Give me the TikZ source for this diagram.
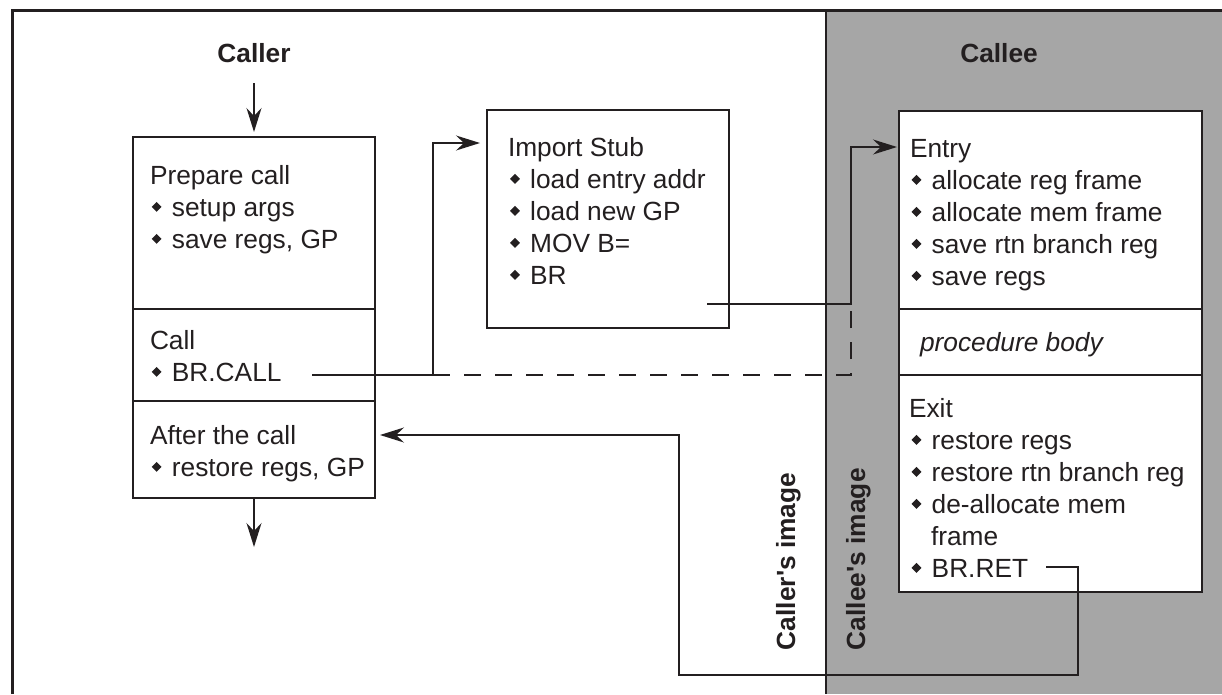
\documentclass[tikz,border=0pt]{standalone}
\usepackage{fontspec}
\setmainfont{Liberation Sans}
\usetikzlibrary{arrows.meta}
\definecolor{ink}{HTML}{231F20}
\definecolor{calleegray}{HTML}{A6A6A6}
\newcommand\dia{\raisebox{4.2pt}{\rotatebox{45}{\rule{7pt}{7pt}}}\hspace{10.3pt}}
\tikzset{
  txt/.style={anchor=base west, inner sep=0pt, outer sep=0pt, text=ink,
              font=\fontsize{26.3}{32}\selectfont},
  head/.style={inner sep=0pt, outer sep=0pt, text=ink,
              font=\fontsize{26.3}{32}\selectfont\bfseries},
  box/.style={draw=ink, line width=2.8pt, fill=white, anchor=north west,
              inner sep=0pt, outer sep=0pt},
  divider/.style={draw=ink, line width=1.4pt},
  conn/.style={draw=ink, line width=1.4pt},
  tip/.style={-{Stealth[length=24pt,width=15pt,inset=8pt]}},
  dashline/.style={draw=ink, line width=2.8pt, dash pattern=on 17pt off 14pt},
}
\begin{document}
\begin{tikzpicture}[x=1pt,y=-1pt]
\useasboundingbox (0,0) rectangle (1222,694);
% callee region
\fill[calleegray] (826,10) rectangle (1222,694);
\draw[ink, line width=2.5pt] (826,10) -- (826,694);
\draw[ink, line width=3pt] (12,694) -- (12,10) -- (1222,10);

% titles
\node[head, anchor=base] (callerT) at (254,62) {Caller};
\node[head, anchor=base] (calleeT) at (999,62) {Callee};
\node[head, anchor=base west, rotate=90] (callerImg) at (795,650) {Caller\textquotesingle s image};
\node[head, anchor=base west, rotate=90] (calleeImg) at (865,650) {Callee\textquotesingle s image};

% boxes
\node[box, minimum width=242pt, minimum height=361pt] (callerbox) at (133,137) {};
\node[box, minimum width=242pt, minimum height=218pt] (stub) at (487,110) {};
\node[box, minimum width=303pt, minimum height=481pt] (calleebox) at (899,111) {};

% dividers
\coordinate (d1) at (0,309);
\coordinate (d2) at (0,401);
\coordinate (d3) at (0,309);
\coordinate (d4) at (0,375);
\draw[divider] (callerbox.west |- d1) -- (callerbox.east |- d1);
\draw[divider] (callerbox.west |- d2) -- (callerbox.east |- d2);
\draw[divider] (calleebox.west |- d3) -- (calleebox.east |- d3);
\draw[divider] (calleebox.west |- d4) -- (calleebox.east |- d4);

% caller text
\node[txt] (c1) at (150,184) {Prepare call};
\node[txt] (c2) at (151.7,216) {\dia setup args};
\node[txt] (c3) at (151.7,248) {\dia save regs, GP};
\node[txt] (c4) at (150,349) {Call};
\node[txt] (c5) at (151.7,381) {\dia BR.CALL};
\node[txt] (c6) at (150,444) {After the call};
\node[txt] (c7) at (151.7,476) {\dia restore regs, GP};

% stub text
\node[txt] (s1) at (508,156) {Import Stub};
\node[txt] (s2) at (510,188) {\dia load entry addr};
\node[txt] (s3) at (510,220) {\dia load new GP};
\node[txt] (s4) at (510,252) {\dia MOV B=};
\node[txt] (s5) at (510,284) {\dia BR};

% callee text
\node[txt] (e1) at (910,157) {Entry};
\node[txt] (e2) at (911.5,189) {\dia allocate reg frame};
\node[txt] (e3) at (911.5,221) {\dia allocate mem frame};
\node[txt] (e4) at (911.5,253) {\dia save rtn branch reg};
\node[txt] (e5) at (911.5,285) {\dia save regs};
\node[txt] (pb) at (920,351) {\itshape procedure body};
\node[txt] (x1) at (909,417) {Exit};
\node[txt] (x2) at (911.5,449) {\dia restore regs};
\node[txt] (x3) at (911.5,481) {\dia restore rtn branch reg};
\node[txt] (x4) at (911.5,513) {\dia de-allocate mem};
\node[txt] (x5) at (931,545) {frame};
\node[txt] (x6) at (911.5,577) {\dia BR.RET};

% connector coordinates
\coordinate (inTop) at (254,83);
\coordinate (outBot) at (254,547);
\coordinate (callStart) at (312,375);
\coordinate (callTurn) at (433,375);
\coordinate (stubIn) at (480,143);
\coordinate (dashCorner) at (851,375);
\coordinate (dashTop) at (851,308);
\coordinate (brStart) at (707,304);
\coordinate (brTurn) at (851,304);
\coordinate (entryIn) at (897,147);
\coordinate (retStart) at (1046,567);
\coordinate (retTurn) at (1078,567);
\coordinate (retLow) at (679,675);
\coordinate (afterIn) at (380,435);

% connectors
\draw[conn, tip] (inTop) -- ([yshift=5pt]callerbox.north);
\draw[conn, tip] (callerbox.south) -- (outBot);
\draw[conn, tip] (callStart) -- (callTurn) |- (stubIn);
\draw[dashline] (callTurn) -- (dashCorner) -- (dashTop);
\draw[conn, tip] (brStart) -- (brTurn) |- (entryIn);
\draw[conn, tip] (retStart) -- (retTurn) |- (retLow) |- (afterIn);
\end{tikzpicture}
\end{document}
